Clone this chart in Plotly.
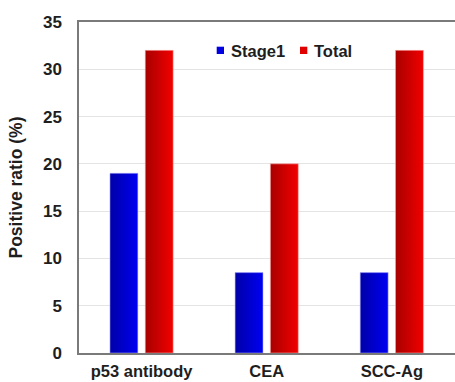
import plotly.graph_objects as go

# Data
categories = ["p53 antibody", "CEA", "SCC-Ag"]
stage1 = [19, 8.5, 8.5]
total = [32, 20, 32]
y_ticks = [0, 5, 10, 15, 20, 25, 30, 35]

series = [
    ("Stage1", stage1, -0.141, ["#0000a8", "#0000f2"], "rgba(170,170,255,0.7)"),
    ("Total", total, 0.141, ["#a80000", "#f20000"], "rgba(255,170,170,0.7)"),
]
bar_width = 0.223

FONT = "Liberation Sans, Arial, sans-serif"
TEXT = "#1e1e1e"

fig = go.Figure()

# Each bar is a filled rectangle with a left-to-right shading
for name, values, offset, (c_dark, c_bright), edge in series:
    for i, v in enumerate(values):
        x0 = i + offset - bar_width / 2
        x1 = i + offset + bar_width / 2
        fig.add_trace(go.Scatter(
            x=[x0, x0, x1, x1, x0],
            y=[0, v, v, 0, 0],
            mode="lines",
            fill="toself",
            line=dict(color=edge, width=0.8),
            fillgradient=dict(type="horizontal",
                              colorscale=[[0, c_dark], [1, c_bright]]),
            name=name,
            showlegend=False,
            hoverinfo="skip",
        ))

fig.update_layout(
    width=455,
    height=382,
    margin=dict(l=79, r=0, t=22, b=29, autoexpand=False),
    paper_bgcolor="white",
    plot_bgcolor="white",
    showlegend=False,
    font=dict(family=FONT, color=TEXT),
    xaxis=dict(
        range=[-0.5, 2.505],
        tickmode="array",
        tickvals=list(range(len(categories))),
        ticktext=[f"<b>{c}</b>" for c in categories],
        tickfont=dict(size=16.5, family=FONT, color=TEXT),
        ticks="",
        ticklabelstandoff=2,
        showgrid=False,
        zeroline=False,
        showline=True,
        linecolor="#7a7a7a",
        linewidth=1.5,
        mirror=True,
        automargin=False,
        fixedrange=True,
    ),
    yaxis=dict(
        range=[0, 35],
        tickmode="array",
        tickvals=y_ticks,
        ticktext=[f"<b>{t}</b>" for t in y_ticks],
        tickfont=dict(size=17, family=FONT, color=TEXT),
        ticks="",
        ticklabelstandoff=12,
        showgrid=True,
        gridcolor="#e4e4e4",
        gridwidth=1,
        zeroline=False,
        showline=True,
        linecolor="#7a7a7a",
        linewidth=1.5,
        mirror=False,
        title=dict(text="<b>Positive ratio (%)</b>",
                   font=dict(size=17.5, family=FONT, color=TEXT),
                   standoff=16),
        automargin=False,
        fixedrange=True,
    ),
)

# Legend: colour swatches with labels inside the plot
legend_items = [("Stage1", "#0000e0", 216.7, 229), ("Total", "#e00000", 300, 312)]
plot_w = 455 - 79
for label, color, sx, tx in legend_items:
    fig.add_shape(type="rect", xref="paper", yref="paper",
                  x0=(sx - 79) / plot_w, x1=(sx + 7.3 - 79) / plot_w,
                  y0=(353 - 54) / 331, y1=(353 - 46.7) / 331,
                  fillcolor=color, line=dict(width=0))
    fig.add_annotation(xref="paper", yref="paper",
                       x=(tx - 79) / plot_w, y=(353 - 50.5) / 331,
                       xanchor="left", yanchor="middle",
                       text=f"<b>{label}</b>", showarrow=False,
                       font=dict(size=16.5, family=FONT, color=TEXT))

fig.write_html("out.html")
